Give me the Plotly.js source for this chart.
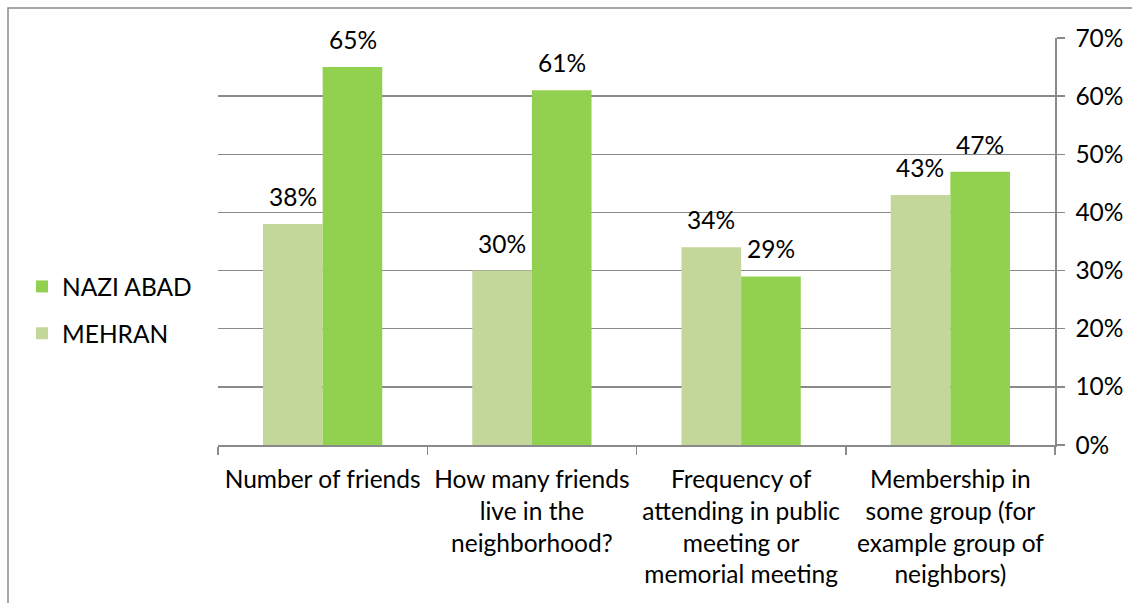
<!DOCTYPE html>
<html>
<head>
<meta charset="utf-8">
<script src="https://cdn.plot.ly/plotly-3.0.1.min.js"></script>
<style>html,body{margin:0;padding:0;background:#fff;}#chart{width:1132px;height:603px;}</style>
</head>
<body>
<div id="chart"></div>
<script>
const categories = [
  "Number of friends",
  "How many friends<br>live in the<br>neighborhood?",
  "Frequency of<br>attending in public<br>meeting or<br>memorial meeting",
  "Membership in<br>some group (for<br>example group of<br>neighbors)"
];
const mehran = [0.38, 0.30, 0.34, 0.43];
const naziAbad = [0.65, 0.61, 0.29, 0.47];
const yTicks = [0, 0.1, 0.2, 0.3, 0.4, 0.5, 0.6, 0.7];

const FONT = "Lato, 'Open Sans', sans-serif";
const FS = 24.5;
const colMehran = "#C4D79B";
const colNazi = "#92D050";
const gray = "#8a8a8a";

const traces = [
  {type: "bar", name: "MEHRAN", x: categories, y: mehran, marker: {color: colMehran},
   legendgroup: "m", legendrank: 2000, hoverinfo: "skip"},
  {type: "bar", name: "NAZI ABAD", x: categories, y: naziAbad, marker: {color: colNazi},
   legendgroup: "n", legendrank: 1000, hoverinfo: "skip"}
];

const annotations = [];
function addLabels(vals, shift) {
  vals.forEach((v, i) => {
    annotations.push({x: categories[i], y: v, xref: "x", yref: "y",
      text: Math.round(v * 100) + "%", showarrow: false, xanchor: "center", yanchor: "bottom",
      xshift: shift, yshift: 11, font: {family: FONT, size: FS, color: "#000"}});
  });
}
addLabels(mehran, -30);
addLabels(naziAbad, 30);

const L = 218, R = 1055, T = 38, B = 445;
const px = p => (p - L) / (R - L);
const py = p => (B - p) / (B - T);

const layout = {
  width: 1132, height: 603,
  margin: {l: L, r: 1132 - R, t: T, b: 603 - B, pad: 0},
  paper_bgcolor: "#fff", plot_bgcolor: "#fff",
  font: {family: FONT, size: FS, color: "#000"},
  barmode: "group", bargap: 0.43, bargroupgap: 0,
  showlegend: true,
  legend: {x: px(22), y: py(264), xanchor: "left", yanchor: "top",
    traceorder: "grouped", tracegroupgap: 12, font: {family: FONT, size: FS, color: "#000"},
    bgcolor: "rgba(0,0,0,0)", itemclick: false, itemdoubleclick: false},
  xaxis: {type: "category", showgrid: false, showline: true, linecolor: gray, linewidth: 1.5,
    ticks: "outside", tickson: "boundaries", ticklen: 8, tickcolor: gray, tickwidth: 1.5,
    tickfont: {family: FONT, size: FS, color: "#000"}, ticklabelstandoff: 12, automargin: false},
  yaxis: {side: "right", range: [0, 0.7], tickvals: yTicks, tickformat: ".0%",
    showgrid: true, gridcolor: gray, gridwidth: 1.5, zeroline: false,
    showline: true, linecolor: gray, linewidth: 1.5,
    ticks: "outside", ticklen: 8, tickcolor: gray, tickwidth: 1.5,
    ticklabelstandoff: 6, tickfont: {family: FONT, size: FS, color: "#000"}, automargin: false},
  annotations: annotations,
  shapes: [
    {type: "rect", xref: "paper", yref: "paper", x0: px(8), x1: px(1145), y0: py(615), y1: py(8),
     line: {color: gray, width: 1.5}, fillcolor: "rgba(0,0,0,0)", layer: "below"}
  ]
};

Plotly.newPlot("chart", traces, layout, {displayModeBar: false, staticPlot: true});
</script>
</body>
</html>
